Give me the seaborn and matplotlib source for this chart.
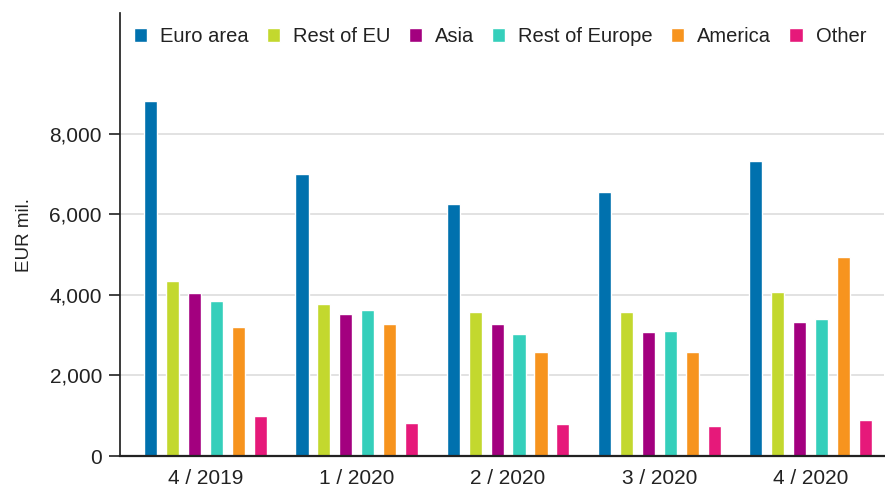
import matplotlib
matplotlib.use("Agg")
import matplotlib.pyplot as plt
import seaborn as sns
import pandas as pd
from matplotlib.ticker import FuncFormatter

quarters = ["4 / 2019", "1 / 2020", "2 / 2020", "3 / 2020", "4 / 2020"]
regions = ["Euro area", "Rest of EU", "Asia", "Rest of Europe", "America", "Other"]
euro_area = [8820, 7013, 6261, 6567, 7329]
rest_of_eu = [4355, 3784, 3586, 3570, 4083]
asia = [4042, 3528, 3288, 3089, 3338]
rest_of_europe = [3843, 3627, 3031, 3106, 3395]
america = [3197, 3271, 2584, 2584, 4936]
other = [994, 828, 803, 753, 903]
colors = ["#0071ae", "#c3d82e", "#a3007f", "#35cfbb", "#f7941e", "#e6197a"]

series = [euro_area, rest_of_eu, asia, rest_of_europe, america, other]
rows = []
for reg, vals in zip(regions, series):
    for q, v in zip(quarters, vals):
        rows.append({"quarter": q, "region": reg, "value": v})
df = pd.DataFrame(rows)

sns.set_theme(style="white")
plt.rcParams["font.family"] = ["Liberation Sans", "DejaVu Sans"]

fig = plt.figure(figsize=(8.85, 4.87), dpi=100)
ax = fig.add_axes([120/885, 1-456/487, (884-120)/885, (456-13)/487])

sns.barplot(data=df, x="quarter", y="value", hue="region", order=quarters,
            hue_order=regions, palette=colors, width=0.87, gap=0.4,
            saturation=1, ax=ax, errorbar=None)

ax.set_xlim(-0.565, 4.485)
ax.set_ylim(0, 11000)
ax.set_yticks([0, 2000, 4000, 6000, 8000])
ax.yaxis.set_major_formatter(FuncFormatter(lambda v, p: f"{int(v):,}"))
ax.yaxis.grid(True, color="#dddddd", linewidth=1.2)
ax.set_axisbelow(True)
for s in ["top", "right"]:
    ax.spines[s].set_visible(False)
ax.spines["left"].set_color("#222222")
ax.spines["bottom"].set_color("#222222")
ax.spines["bottom"].set_linewidth(1.6)
ax.tick_params(axis="y", left=True, length=8, width=1.2, color="#222222",
               labelsize=15, labelcolor="#222222", pad=5)
ax.tick_params(axis="x", bottom=False, labelsize=15, labelcolor="#222222", pad=3)
ax.set_xlabel("")
ax.set_ylabel("EUR mil.", fontsize=13.5, color="#222222", labelpad=12)

leg = ax.legend(loc="upper left", bbox_to_anchor=(0.0, 1.0), ncol=6, frameon=False,
                fontsize=14.5, handlelength=0.65, handleheight=0.65, handletextpad=0.65,
                columnspacing=0.9, borderaxespad=0.4, borderpad=0.3)
for t in leg.get_texts():
    t.set_color("#222222")

fig.savefig("out.png", dpi=100)
